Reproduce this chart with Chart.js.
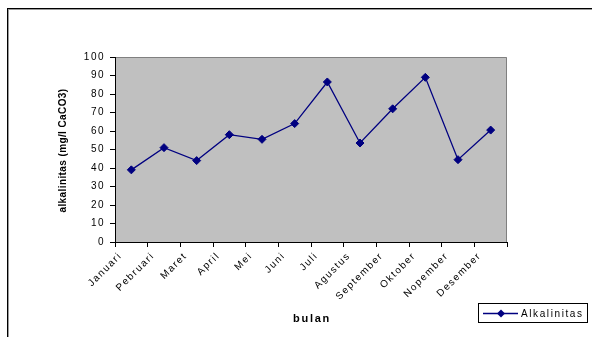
<!DOCTYPE html>
<html>
<head>
<meta charset="utf-8">
<script src="https://cdn.jsdelivr.net/npm/chart.js@4/dist/chart.umd.min.js"></script>
<style>
  html, body { margin: 0; padding: 0; background: #fff; }
  #wrap { position: relative; width: 592px; height: 337px; overflow: hidden; }
  #frame { position: absolute; left: 7px; top: 8px; width: 700px; height: 500px;
           border: 1px solid #000; box-shadow: inset 1px 1px 0 #9a9a9a; }
  canvas { position: absolute; left: 0; top: 0; }
</style>
</head>
<body>
<div id="wrap">
  <div id="frame"></div>
  <canvas id="c" width="592" height="337"></canvas>
</div>
<script>
// Monthly alkalinity (mg/l CaCO3)
const months = ['Januari', 'Pebruari', 'Maret', 'April', 'Mei', 'Juni',
                'Juli', 'Agustus', 'September', 'Oktober', 'Nopember', 'Desember'];
const alkalinitas = [39, 51, 44, 58, 55.5, 64, 86.5, 53.5, 72, 89, 44.5, 60.5];
const seriesName = 'Alkalinitas';
const yTitle = 'alkalinitas (mg/l CaCO3)';
const xTitle = 'bulan';
const yMin = 0, yMax = 100, yStep = 10;

const FONT = '"Liberation Sans", Arial, sans-serif';
const NAVY = '#000080';
const TICK_SPACING = '1.5px';

function diamond(ctx, x, y, r) {
  ctx.beginPath();
  ctx.moveTo(x, y - r);
  ctx.lineTo(x + r, y);
  ctx.lineTo(x, y + r);
  ctx.lineTo(x - r, y);
  ctx.closePath();
  ctx.fill();
}

const excelLook = {
  id: 'excelLook',
  beforeUpdate(chart) { chart.ctx.letterSpacing = TICK_SPACING; },
  beforeDraw(chart) {
    const { ctx, chartArea: a } = chart;
    ctx.letterSpacing = TICK_SPACING;
    ctx.save();
    ctx.fillStyle = '#c0c0c0';
    ctx.fillRect(a.left, a.top, a.right - a.left, a.bottom - a.top);
    ctx.strokeStyle = '#808080';
    ctx.lineWidth = 1;
    ctx.beginPath();
    ctx.moveTo(a.left, a.top + 0.5);
    ctx.lineTo(a.right - 0.5, a.top + 0.5);
    ctx.lineTo(a.right - 0.5, a.bottom);
    ctx.stroke();
    ctx.restore();
  },
  afterDraw(chart) {
    const { ctx, chartArea: a } = chart;
    ctx.save();
    ctx.fillStyle = '#000';
    // axis titles
    ctx.letterSpacing = '0.4px';
    ctx.font = 'bold 10px ' + FONT;
    ctx.textAlign = 'center';
    ctx.textBaseline = 'middle';
    ctx.save();
    ctx.translate(63, (a.top + a.bottom) / 2 + 1);
    ctx.rotate(-Math.PI / 2);
    ctx.fillText(yTitle, 0, 0);
    ctx.restore();
    ctx.letterSpacing = '1.7px';
    ctx.font = 'bold 11px ' + FONT;
    ctx.fillText(xTitle, (a.left + a.right) / 2 + 1, 319);

    // legend box
    const ds = chart.data.datasets[0];
    ctx.fillStyle = '#fff';
    ctx.fillRect(478, 303, 110, 20);
    ctx.strokeStyle = '#000';
    ctx.lineWidth = 1;
    ctx.strokeRect(478.5, 303.5, 109, 19);
    ctx.strokeStyle = ds.borderColor;
    ctx.lineWidth = 1.3;
    ctx.beginPath();
    ctx.moveTo(483, 313.5);
    ctx.lineTo(518, 313.5);
    ctx.stroke();
    ctx.fillStyle = ds.backgroundColor;
    diamond(ctx, 501, 313.5, 4);
    ctx.fillStyle = '#000';
    ctx.letterSpacing = '1.6px';
    ctx.font = '10px ' + FONT;
    ctx.textAlign = 'left';
    ctx.fillText(ds.label, 521, 314);
    ctx.restore();
  }
};

new Chart(document.getElementById('c'), {
  type: 'line',
  data: {
    labels: months,
    datasets: [{
      label: seriesName,
      data: alkalinitas,
      borderColor: NAVY,
      backgroundColor: NAVY,
      borderWidth: 1.3,
      pointStyle: 'rectRot',
      pointRadius: 4,
      pointHoverRadius: 4,
      pointBorderWidth: 1,
      tension: 0,
      fill: false
    }]
  },
  options: {
    responsive: false,
    animation: false,
    events: [],
    layout: { padding: { left: 0, top: 57, right: 85, bottom: 0 } },
    plugins: { legend: { display: false }, tooltip: { enabled: false } },
    scales: {
      x: {
        type: 'category',
        offset: true,
        grid: { offset: true, drawOnChartArea: false, tickLength: 5, color: '#000' },
        border: { color: '#000', width: 1 },
        ticks: { minRotation: 45, maxRotation: 45, autoSkip: false, padding: 3,
                 labelOffset: -11, color: '#000', font: { family: FONT, size: 10 } },
        afterFit(s) { s.height = 95; }
      },
      y: {
        min: yMin, max: yMax,
        grid: { drawOnChartArea: false, tickLength: 5, color: '#000' },
        border: { color: '#000', width: 1 },
        ticks: { stepSize: yStep, padding: 5, color: '#000', font: { family: FONT, size: 10 } },
        afterFit(s) { s.width = 115; }
      }
    }
  },
  plugins: [excelLook]
});
</script>
</body>
</html>
